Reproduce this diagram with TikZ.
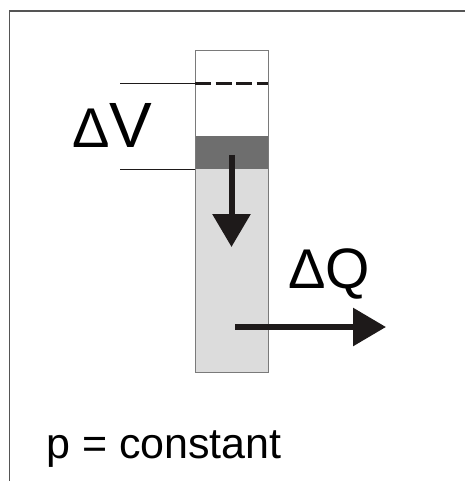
\documentclass[tikz,border=0pt]{standalone}
\usepackage{fontspec}
\setmainfont{Liberation Sans}
\usetikzlibrary{arrows.meta}
\definecolor{frameg}{HTML}{555555}
\definecolor{colg}{HTML}{7A7A7A}
\definecolor{darkband}{HTML}{6E6E6E}
\definecolor{lightfill}{HTML}{DCDCDC}
\definecolor{ink}{HTML}{1E1A1A}
\tikzset{
  bigarrow/.style={ink, line width=6pt, -{Triangle[length=33pt,width=37pt]}},
  leader/.style={ink, line width=0.9pt},
  lbl/.style={inner sep=0pt, anchor=base west, text=black},
}
\begin{document}
\begin{tikzpicture}[x=1pt,y=-1pt]
\useasboundingbox (0,0) rectangle (465,481);
% frame
\draw[frameg, line width=1.4pt] (9.5,481) -- (9.5,11) -- (465,11);
% column
\fill[lightfill] (195,169) rectangle (268,372);
\fill[darkband] (195,136) rectangle (268,169);
\node[draw=colg, line width=0.8pt, minimum width=73pt, minimum height=322pt, inner sep=0pt, anchor=north west] (col) at (195,50) {};
% dashed level
\coordinate (dl) at (195,83.5);
\coordinate (dr) at (268,83.5);
\draw[ink, line width=3pt, dash pattern=on 16pt off 4.5pt] (dl) -- (dr);
% leader lines
\coordinate (t1) at (120,83.5);
\coordinate (t2) at (120,169);
\coordinate (b2) at (195,169);
\draw[leader] (t1) -- (dl);
\draw[leader] (t2) -- (b2);
% arrows
\coordinate (da) at (231.5,155);
\coordinate (db) at (231.5,247);
\draw[bigarrow] (da) -- (db);
\coordinate (ra) at (235,327);
\coordinate (rb) at (386,327);
\draw[bigarrow] (ra) -- (rb);
% labels
\node[lbl] (dv) at (72,148) {{\fontsize{56}{56}\selectfont Δ}\fontsize{64}{64}\selectfont V};
\node[lbl] (dq) at (288,288) {{\fontsize{56}{56}\selectfont Δ}\fontsize{57}{57}\selectfont Q};
\node[lbl] (pc) at (46,458) {\fontsize{43}{43}\selectfont p = constant};
\end{tikzpicture}
\end{document}
